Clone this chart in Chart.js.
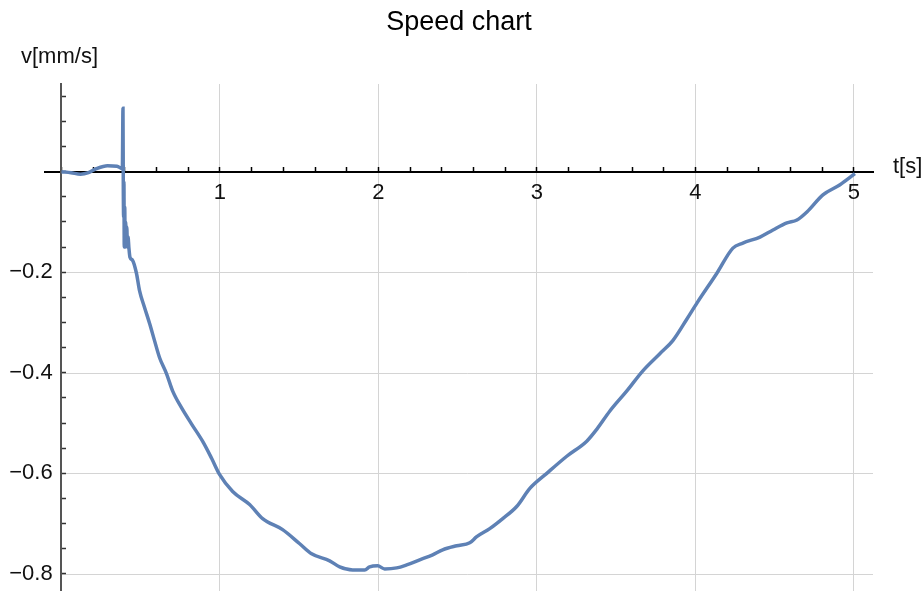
<!DOCTYPE html>
<html>
<head>
<meta charset="utf-8">
<title>Speed chart</title>
<script src="https://cdn.jsdelivr.net/npm/chart.js@4"></script>
<style>
  html, body { margin: 0; padding: 0; background: #fff; }
  #speed-chart { display: block; }
</style>
</head>
<body>
<canvas id="speed-chart" width="924" height="591"></canvas>
<script>
// time samples [s] and measured speed [mm/s]
const timeValues = [
  0.00, 0.06, 0.12, 0.17, 0.22, 0.29, 0.35, 0.384, 0.388, 0.390,
  0.392, 0.394, 0.396, 0.399, 0.402, 0.405, 0.408, 0.412, 0.416, 0.420,
  0.425, 0.432, 0.448, 0.473, 0.492, 0.524, 0.556, 0.587, 0.619, 0.663,
  0.701, 0.758, 0.821, 0.890, 0.947, 0.997, 1.080, 1.187, 1.269, 1.395,
  1.503, 1.578, 1.692, 1.755, 1.837, 1.913, 1.944, 1.995, 2.039, 2.115,
  2.178, 2.260, 2.342, 2.405, 2.494, 2.576, 2.620, 2.702, 2.784, 2.872,
  2.955, 3.062, 3.188, 3.314, 3.378, 3.460, 3.567, 3.668, 3.775, 3.857,
  3.946, 4.012, 4.135, 4.236, 4.299, 4.407, 4.489, 4.577, 4.640, 4.703,
  4.804, 4.912, 5.006
];
const speedValues = [
  0.000, -0.002, -0.005, -0.002, 0.006, 0.012, 0.011, 0.006, 0.126, -0.030,
  -0.090, -0.020, -0.150, -0.070, -0.150, -0.100, -0.140, -0.110, -0.150, -0.130,
  -0.150, -0.170, -0.176, -0.202, -0.236, -0.270, -0.302, -0.336, -0.370, -0.402,
  -0.436, -0.470, -0.502, -0.536, -0.570, -0.602, -0.636, -0.662, -0.690, -0.712,
  -0.740, -0.760, -0.774, -0.786, -0.792, -0.792, -0.786, -0.784, -0.790, -0.788,
  -0.782, -0.772, -0.762, -0.752, -0.744, -0.738, -0.726, -0.710, -0.690, -0.666,
  -0.630, -0.600, -0.566, -0.536, -0.512, -0.476, -0.436, -0.396, -0.362, -0.336,
  -0.293, -0.260, -0.202, -0.152, -0.142, -0.130, -0.116, -0.102, -0.096, -0.080,
  -0.046, -0.026, -0.004
];

// labelled ticks
const xMajorTicks = [1, 2, 3, 4, 5];
const xTickLabels = ['1', '2', '3', '4', '5'];
const yMajorTicks = [-0.2, -0.4, -0.6, -0.8];
const yTickLabels = ['\u22120.2', '\u22120.4', '\u22120.6', '\u22120.8'];

const FONT = "'Liberation Sans', Arial, sans-serif";
const GRID_COLOR = '#d4d4d4';

const findMajor = (list, value) => list.findIndex(m => Math.abs(m - value) < 1e-6);

// horizontal grid lines start at the vertical axis, not at the chart edge
const gridPlugin = {
  id: 'axisGrid',
  beforeDraw(chart) {
    const { ctx, chartArea, scales } = chart;
    const x0 = scales.x.getPixelForValue(0);
    ctx.save();
    ctx.strokeStyle = GRID_COLOR;
    ctx.lineWidth = 1;
    yMajorTicks.forEach(v => {
      const y = Math.round(scales.y.getPixelForValue(v)) + 0.5;
      ctx.beginPath();
      ctx.moveTo(x0, y);
      ctx.lineTo(chartArea.right, y);
      ctx.stroke();
    });
    ctx.restore();
  }
};

// axis names at the ends of the axes
const axisNamePlugin = {
  id: 'axisNames',
  afterDraw(chart) {
    const { ctx, scales } = chart;
    ctx.save();
    ctx.fillStyle = '#111';
    ctx.font = '22px ' + FONT;
    ctx.textBaseline = 'middle';
    ctx.textAlign = 'left';
    ctx.fillText('v[mm/s]', 21, 57);
    ctx.fillText('t[s]', 893, scales.y.getPixelForValue(0) - 5);
    ctx.restore();
  }
};

new Chart(document.getElementById('speed-chart'), {
  type: 'line',
  data: {
    datasets: [{
      data: timeValues.map((t, i) => ({ x: t, y: speedValues[i] })),
      borderColor: '#5e81b5',
      borderWidth: 3.5,
      pointRadius: 0,
      cubicInterpolationMode: 'monotone',
      fill: false
    }]
  },
  options: {
    responsive: false,
    animation: false,
    devicePixelRatio: 1,
    layout: { padding: { left: 45, right: 51, top: 0, bottom: 0 } },
    plugins: {
      legend: { display: false },
      tooltip: { enabled: false },
      title: {
        display: true,
        text: 'Speed chart',
        color: '#000',
        font: { family: FONT, size: 27, weight: 'normal', lineHeight: 1.2 },
        padding: { top: 6, bottom: 45.6 }
      }
    },
    scales: {
      x: {
        type: 'linear',
        position: { y: 0 },
        min: -0.104,
        max: 5.12,
        afterFit: scale => {
          scale.height = 0;
          scale.paddingLeft = 0;
          scale.paddingRight = 0;
        },
        border: { display: true, color: '#000', width: 2 },
        grid: {
          drawOnChartArea: true,
          drawTicks: true,
          tickLength: -6,
          tickWidth: 1.5,
          tickColor: '#000',
          color: ctx => findMajor(xMajorTicks, ctx.tick.value) >= 0 ? GRID_COLOR : 'rgba(0,0,0,0)'
        },
        ticks: {
          stepSize: 0.2,
          includeBounds: false,
          autoSkip: false,
          maxRotation: 0,
          padding: 14,
          color: '#111',
          font: { family: FONT, size: 22 },
          callback: value => {
            const i = findMajor(xMajorTicks, value);
            return i >= 0 ? xTickLabels[i] : '';
          }
        }
      },
      y: {
        type: 'linear',
        position: { x: 0 },
        min: -0.834,
        max: 0.1744,
        afterFit: scale => {
          scale.width = 0;
          scale.paddingTop = 0;
          scale.paddingBottom = 0;
        },
        border: { display: true, color: '#555', width: 2 },
        grid: {
          drawOnChartArea: false,
          drawTicks: true,
          tickLength: -6,
          tickWidth: 1.5,
          tickColor: '#333'
        },
        ticks: {
          stepSize: 0.05,
          includeBounds: false,
          autoSkip: false,
          color: '#111',
          font: { family: FONT, size: 22 },
          // thin spaces keep the labels clear of the axis line
          callback: value => {
            const i = findMajor(yMajorTicks, value);
            return i >= 0 ? yTickLabels[i] + '\u2009\u2009' : '';
          }
        }
      }
    }
  },
  plugins: [gridPlugin, axisNamePlugin]
});
</script>
</body>
</html>
